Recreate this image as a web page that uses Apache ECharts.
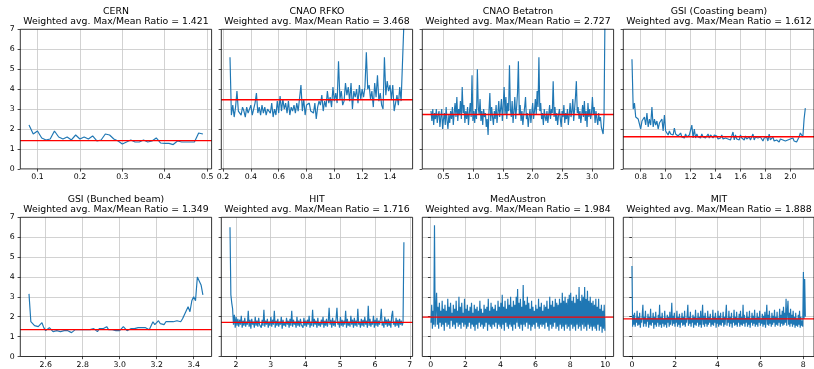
<!DOCTYPE html>
<html><head><meta charset="utf-8">
<script src="https://cdn.jsdelivr.net/npm/echarts@6/dist/echarts.min.js"></script>
<style>html,body{margin:0;padding:0;background:#fff}#c{width:814px;height:369px}</style>
</head><body><div id="c"></div>
<script>
const names = ['CERN', 'CNAO RFKO', 'CNAO Betatron', 'GSI (Coasting beam)', 'GSI (Bunched beam)', 'HIT', 'MedAustron', 'MIT'];
const ratios = [1.421, 3.468, 2.727, 1.612, 1.349, 1.716, 1.984, 1.888];
const xStarts = [0.08, 0.25, 0.29, 0.73, 2.51, 1.83, 0.02, 0.0];
const xSteps = [0.01, 0.01, 0.015, 0.01, 0.01, 0.025, 0.04, 0.03];

const cernY = [2.2,1.75,1.9,1.55,1.45,1.5,1.9,1.6,1.5,1.6,1.45,1.7,1.5,1.6,1.5,1.65,1.4,1.45,1.75,1.7,1.5,1.4,1.25,1.35,1.45,1.35,1.35,1.45,1.35,1.4,1.55,1.3,1.28,1.28,1.22,1.4,1.35,1.35,1.35,1.35,1.8,1.75];

const rfkoY = [5.6,2.7,3.2,2.6,3.1,3.9,2.9,3.0,2.7,3.1,
2.9,2.6,3.1,2.8,3.0,3.2,2.7,3.0,3.3,3.8,
2.8,3.1,2.7,3.2,2.8,3.1,2.7,3.0,2.9,2.8,
3.3,2.6,3.0,2.7,3.4,2.8,3.65,2.9,3.5,3.0,
3.3,2.8,3.4,2.7,3.1,2.9,3.2,2.8,3.3,2.9,
3.0,4.2,2.9,3.5,2.7,3.2,3.1,3.3,2.9,3.0,
2.8,3.3,2.5,3.1,3.4,3.2,3.7,2.9,3.4,3.1,
3.9,3.3,3.6,3.1,4.1,3.4,3.8,3.3,5.4,3.5,
3.9,3.2,3.4,4.3,3.7,4.1,3.4,4.3,3.0,3.9,
3.6,4.0,3.3,4.2,3.5,4.0,3.6,4.1,5.85,4.0,
4.2,3.5,3.9,3.1,4.3,3.6,4.7,3.4,3.8,3.2,
3.0,5.6,3.7,4.4,3.9,4.2,3.5,4.2,2.9,3.3,
3.7,3.2,4.1,3.4,3.5,7.3];

const betaY = [2.9,2.4,3.0,2.2,2.8,2.5,3.0,2.3,2.7,2.9,
2.1,2.6,3.0,2.0,2.5,2.8,2.2,3.1,2.4,2.0,
2.7,2.3,2.9,2.5,3.1,2.2,2.8,3.3,2.6,3.6,
2.4,3.0,2.7,3.4,2.5,4.1,2.8,3.2,2.3,2.9,
2.5,3.1,2.2,2.8,3.3,2.6,4.7,2.4,2.9,2.3,
3.0,2.5,5.0,3.1,2.7,3.5,2.4,2.9,2.2,3.0,
2.6,2.8,2.1,2.5,1.7,2.9,3.8,2.4,3.1,2.6,
2.2,2.9,2.5,3.2,2.3,2.8,3.4,2.6,3.0,3.5,
2.4,3.2,4.1,2.7,3.6,2.5,3.3,2.9,5.2,3.0,
2.6,3.4,2.3,2.9,3.6,2.5,3.1,3.8,5.4,2.7,
3.2,2.4,2.9,2.2,2.7,3.1,3.6,2.5,2.8,2.1,
2.6,3.0,2.3,2.8,3.3,2.5,2.9,3.5,2.7,3.9,
3.1,5.6,2.9,3.3,2.5,2.8,2.2,3.0,2.6,2.4,
2.9,2.3,2.7,3.2,2.5,3.0,2.8,4.4,2.6,3.1,
2.4,2.8,2.2,2.7,3.0,2.5,2.1,2.9,2.6,3.2,
2.3,2.8,2.5,3.0,2.2,2.7,3.3,2.6,2.9,3.5,
2.4,3.0,3.6,4.4,2.8,3.1,2.5,2.9,2.3,2.7,
3.2,2.6,3.4,2.4,2.9,2.1,3.3,2.6,3.0,2.5,
2.8,3.6,2.7,3.1,2.3,2.9,2.5,2.2,2.8,2.4,
2.6,2.1,2.0,1.75,2.6,7.3];

const coastY = [5.5,3.0,3.3,2.6,2.6,2.5,2.6,2.0,2.4,2.3,
2.6,2.2,2.8,2.1,2.5,2.2,3.1,2.1,2.5,2.2,
2.4,2.0,2.3,2.2,2.5,1.9,2.7,1.9,1.8,1.7,
1.9,1.75,1.85,1.7,2.05,1.75,1.8,1.65,1.7,1.8,
1.6,1.7,1.55,1.75,1.6,1.55,1.7,1.6,2.2,1.55,
2.0,1.55,1.75,1.6,1.65,1.55,1.75,1.6,1.7,1.55,
1.65,1.75,1.55,1.7,1.6,1.55,1.7,1.6,1.65,1.5,
1.6,1.55,1.7,1.5,1.6,1.55,1.65,1.5,1.6,1.45,
1.55,1.85,1.45,1.7,1.5,1.6,1.45,1.7,1.55,1.6,
1.45,1.65,1.5,1.55,1.6,1.45,1.55,1.75,1.45,1.6,
1.5,1.55,1.45,1.6,1.5,1.4,1.55,1.45,1.6,1.4,
1.75,1.45,1.55,1.6,1.4,1.5,1.45,1.55,1.35,1.5,
1.4,1.45,1.55,1.4,1.5,1.45,1.4,1.5,1.45,1.55,
1.4,1.35,1.35,1.4,1.6,1.8,1.75,1.6,2.5,3.05];

const bunchY = [3.15,1.75,1.85,1.55,1.6,1.5,1.4,1.7,1.45,1.3,
1.35,1.45,1.4,1.25,1.35,1.3,1.35,1.25,1.25,1.3,
1.25,1.3,1.2,1.2,1.25,1.35,1.3,1.35,1.3,1.35,
1.3,1.35,1.25,1.35,1.3,1.4,1.35,1.25,1.4,1.35,
1.4,1.35,1.5,1.35,1.4,1.35,1.4,1.3,1.35,1.3,
1.4,1.5,1.4,1.3,1.35,1.4,1.35,1.4,1.4,1.45,
1.5,1.45,1.55,1.45,1.4,1.35,1.45,1.75,1.6,1.5,
1.8,1.65,1.75,1.6,1.75,1.7,1.75,1.8,1.75,1.85,
1.8,1.9,1.75,1.9,2.1,2.2,2.5,2.25,2.8,3.0,
2.8,4.0,3.95,3.6,3.1];

const hitY = [6.5,3.1,2.7,2.4,1.6,2.1,1.45,2.0,1.55,1.9,
1.5,1.85,1.6,2.05,1.45,1.8,1.55,1.95,1.5,1.75,
1.6,2.3,1.5,1.85,1.4,1.9,1.6,1.75,1.45,2.0,
1.55,1.8,1.5,1.95,1.6,1.7,1.45,1.85,1.55,2.35,
1.5,1.8,1.6,1.9,1.45,1.75,1.55,2.0,1.5,1.85,
1.6,2.3,1.45,1.8,1.55,1.9,1.5,1.75,1.6,2.0,
1.4,1.85,1.55,1.7,1.5,1.95,1.6,1.8,1.45,1.9,
1.55,2.3,1.5,1.85,1.6,1.75,1.45,2.0,1.55,1.8,
1.5,1.9,1.6,1.7,1.45,1.95,1.55,1.8,1.5,1.85,
1.6,2.05,1.45,1.75,1.55,2.35,1.5,1.9,1.6,1.8,
1.45,1.95,1.55,1.7,1.5,1.85,1.6,2.0,1.45,1.8,
1.55,1.9,1.5,1.75,2.45,1.6,1.85,1.45,1.95,1.55,
1.8,1.5,1.9,2.45,1.6,1.75,1.45,2.0,1.55,1.85,
1.5,1.8,1.6,2.3,1.45,1.9,1.55,1.75,1.5,2.05,
1.6,1.85,1.45,1.95,1.55,1.8,1.5,2.4,1.6,1.75,
1.45,1.9,1.55,1.85,1.5,2.0,1.6,1.8,1.45,2.55,
1.55,1.9,1.5,1.75,1.6,2.05,1.45,1.85,1.55,1.95,
1.5,1.8,1.6,1.9,2.4,1.55,1.75,1.45,2.0,1.6,
1.85,1.5,1.9,1.55,1.8,1.45,2.05,2.3,1.6,1.75,
1.5,1.95,1.55,1.85,1.45,1.9,1.6,1.8,1.55,1.7,
5.75];

const medY = [1.7,2.6,1.4,2.3,1.6,6.6,1.5,2.4,3.2,1.6,
2.5,1.4,2.7,1.7,2.3,1.5,2.8,1.6,2.4,1.3,
2.6,1.7,2.3,1.5,2.9,1.6,2.5,1.4,2.7,1.8,
2.2,1.5,2.6,1.6,2.4,1.4,2.8,1.7,2.3,1.5,
3.0,1.6,2.5,1.4,2.7,1.7,2.2,1.5,2.9,1.6,
2.4,1.4,2.6,1.5,2.3,1.7,2.5,1.4,2.7,1.6,
2.2,1.5,2.6,1.3,2.4,1.6,2.5,1.4,2.3,1.7,
2.8,1.5,2.4,1.6,2.2,1.4,2.6,1.5,2.4,1.7,
2.5,1.3,2.9,1.6,2.3,1.5,2.7,1.4,2.5,1.6,
2.4,1.5,2.6,1.7,2.3,1.4,2.8,1.6,2.5,1.5,
2.7,1.4,3.1,1.6,2.5,1.3,2.8,1.7,2.4,1.5,
2.9,1.4,2.6,1.6,3.0,1.5,2.5,1.3,2.8,1.6,
2.6,1.4,3.0,1.7,3.4,1.5,2.7,1.4,2.9,1.6,
2.5,1.3,3.6,1.6,2.8,1.5,2.6,1.7,3.0,1.4,
2.7,1.6,2.4,1.3,2.8,1.5,2.5,1.6,2.3,1.4,
2.6,1.7,2.4,1.5,2.9,1.4,2.5,1.6,2.7,1.5,
2.3,1.6,2.6,1.4,2.5,1.7,2.8,1.5,2.4,1.3,
3.0,1.6,2.6,1.4,2.8,1.5,2.5,1.7,2.9,1.4,
2.7,1.5,2.6,1.3,2.9,1.6,2.7,1.4,3.2,1.5,
2.8,1.3,3.0,1.6,2.7,1.4,2.9,1.5,3.1,1.3,
3.2,1.6,2.8,1.4,3.0,1.5,2.7,1.3,3.1,1.6,
2.9,1.4,3.5,1.5,2.8,1.3,3.1,1.6,3.0,1.4,
3.5,1.5,2.9,1.3,3.3,1.6,2.8,1.4,3.0,1.5,
2.7,1.3,2.8,1.5,2.6,1.4,2.9,1.3,2.5,1.6,
2.9,1.3,2.4,1.5,2.6,1.2,2.3,1.4,2.6,1.3];

const mitY = [4.55,1.5,2.1,1.6,2.2,1.5,1.9,1.7,2.3,1.55,
2.0,1.6,2.2,1.45,1.9,1.7,2.1,2.6,1.5,2.0,
1.65,2.3,1.5,1.9,1.75,2.15,1.45,2.0,1.6,2.4,
1.55,1.95,1.7,2.2,1.4,2.0,1.6,2.25,1.5,1.9,
1.7,2.1,1.5,2.6,1.6,2.0,1.45,2.2,1.65,1.9,
1.5,2.3,1.6,1.95,1.45,2.1,1.7,2.0,1.5,2.25,
1.6,1.9,2.7,1.55,2.05,1.65,2.2,1.5,1.9,1.7,
2.3,1.5,2.0,1.6,2.15,1.45,1.95,1.7,2.2,1.55,
2.0,1.6,2.3,1.5,1.9,1.7,2.1,2.6,1.55,2.0,
1.65,2.25,1.5,1.9,1.7,2.1,1.45,2.0,1.6,2.35,
1.55,1.95,1.7,2.2,1.5,2.0,1.6,2.3,1.45,1.9,
2.6,1.6,2.05,1.5,2.2,1.65,1.95,1.5,2.3,1.6,
2.0,1.7,2.15,1.5,1.9,1.6,2.35,1.55,2.0,1.7,
2.2,1.45,1.95,1.65,2.3,1.5,2.05,1.6,2.2,1.55,
1.9,1.7,2.25,1.5,2.0,1.6,2.1,2.6,1.55,1.95,
1.7,2.3,1.5,2.0,1.65,2.2,1.45,1.9,1.7,2.35,
1.55,2.0,1.6,2.25,1.5,1.95,1.7,2.15,1.5,2.3,
1.6,2.0,1.55,2.6,1.65,2.1,1.5,1.95,1.7,2.25,
1.5,2.0,1.6,2.3,1.45,1.9,1.7,2.2,1.55,2.05,
1.65,2.35,1.5,1.95,1.6,2.2,1.5,2.0,1.7,2.3,
1.55,1.9,1.65,2.15,1.5,2.05,1.6,2.25,1.45,2.0,
2.6,1.6,2.1,1.55,2.3,1.65,1.95,1.5,2.2,1.6,
2.05,1.7,2.35,1.5,2.0,1.6,2.25,1.55,1.95,1.7,
2.4,1.5,2.1,1.65,2.3,1.55,2.5,1.6,2.2,1.7,
2.9,1.55,2.3,2.8,1.6,2.2,1.5,2.4,1.65,2.1,
1.5,2.3,1.6,2.0,1.45,2.2,1.55,1.9,1.5,2.1,
1.6,2.3,1.45,2.0,1.55,1.8,1.5,4.25,1.9,3.9,
2.0];

const seriesY = [cernY, rfkoY, betaY, coastY, bunchY, hitY, medY, mitY];

const xTicks = [
  [0.1,0.2,0.3,0.4,0.5],
  [0.2,0.4,0.6,0.8,1.0,1.2,1.4],
  [0.5,1.0,1.5,2.0,2.5,3.0],
  [0.8,1.0,1.2,1.4,1.6,1.8,2.0],
  [2.6,2.8,3.0,3.2,3.4],
  [2,3,4,5,6,7],
  [0,2,4,6,8,10],
  [0,2,4,6,8]
];
const xTickDecimals = [1,1,1,1,1,0,0,0];
const yTicks = [0,1,2,3,4,5,6,7];

const FONT = 'DejaVu Sans';
const lefts = [20.3, 221.3, 422.3, 623.3];
const tops = [29.3, 217.3];
const W = 191.3, H = 139.6;

const grids = [], xAxes = [], yAxes = [], series = [], titles = [];
for (let k = 0; k < 8; k++) {
  const col = k % 4, row = Math.floor(k / 4);
  const ys = seriesY[k];
  const data = ys.map((v, i) => [+(xStarts[k] + i * xSteps[k]).toFixed(4), v]);
  const a = data[0][0], b = data[data.length - 1][0];
  const m = 0.05 * (b - a);
  const xmin = a - m, xmax = b + m;
  grids.push({left: lefts[col], top: tops[row], width: W, height: H, show: true, z: 10,
    backgroundColor: 'transparent', borderColor: '#000', borderWidth: 0.8, containLabel: false});
  titles.push({
    text: names[k] + '\nWeighted avg. Max/Mean Ratio = ' + ratios[k].toFixed(3),
    left: lefts[col] + W / 2, top: tops[row] - 22.8, textAlign: 'center', padding: 0,
    textStyle: {fontFamily: FONT, fontSize: 9.33, fontWeight: 'normal', color: '#000', lineHeight: 10.3}
  });
  const dec = xTickDecimals[k];
  xAxes.push({
    type: 'value', gridIndex: k, min: xmin, max: xmax,
    axisLine: {show: false},
    axisTick: {show: true, inside: false, length: 2.7, customValues: xTicks[k], lineStyle: {color: '#000', width: 0.7}},
    axisLabel: {show: true, customValues: xTicks[k], margin: 4.5, fontFamily: FONT, fontSize: 7.78, color: '#000',
      formatter: v => Number(v).toFixed(dec), hideOverlap: false},
    splitLine: {show: true, lineStyle: {color: '#c6c6c6', width: 0.8}}
  });
  yAxes.push({
    type: 'value', gridIndex: k, min: 0, max: 7, interval: 1,
    axisLine: {show: false},
    axisTick: {show: true, inside: false, length: 2.7, lineStyle: {color: '#000', width: 0.7}},
    axisLabel: {show: col === 0, margin: 5.5, fontFamily: FONT, fontSize: 7.78, color: '#000'},
    splitLine: {show: true, showMinLine: false, showMaxLine: false, lineStyle: {color: '#c6c6c6', width: 0.8}}
  });
  series.push({
    type: 'line', xAxisIndex: k, yAxisIndex: k, data: data, showSymbol: false, symbol: 'none',
    lineStyle: {color: '#1f77b4', width: 1.17}, z: 3, clip: true, silent: true
  });
  series.push({
    type: 'line', xAxisIndex: k, yAxisIndex: k, data: [[xmin, ratios[k]], [xmax, ratios[k]]],
    showSymbol: false, symbol: 'none', lineStyle: {color: '#ff0000', width: 1.3}, z: 4, clip: true, silent: true
  });
}

const chart = echarts.init(document.getElementById('c'), null, {renderer: 'canvas'});
chart.setOption({
  animation: false,
  backgroundColor: '#fff',
  title: titles, grid: grids, xAxis: xAxes, yAxis: yAxes, series: series
});
</script>
</body></html>
